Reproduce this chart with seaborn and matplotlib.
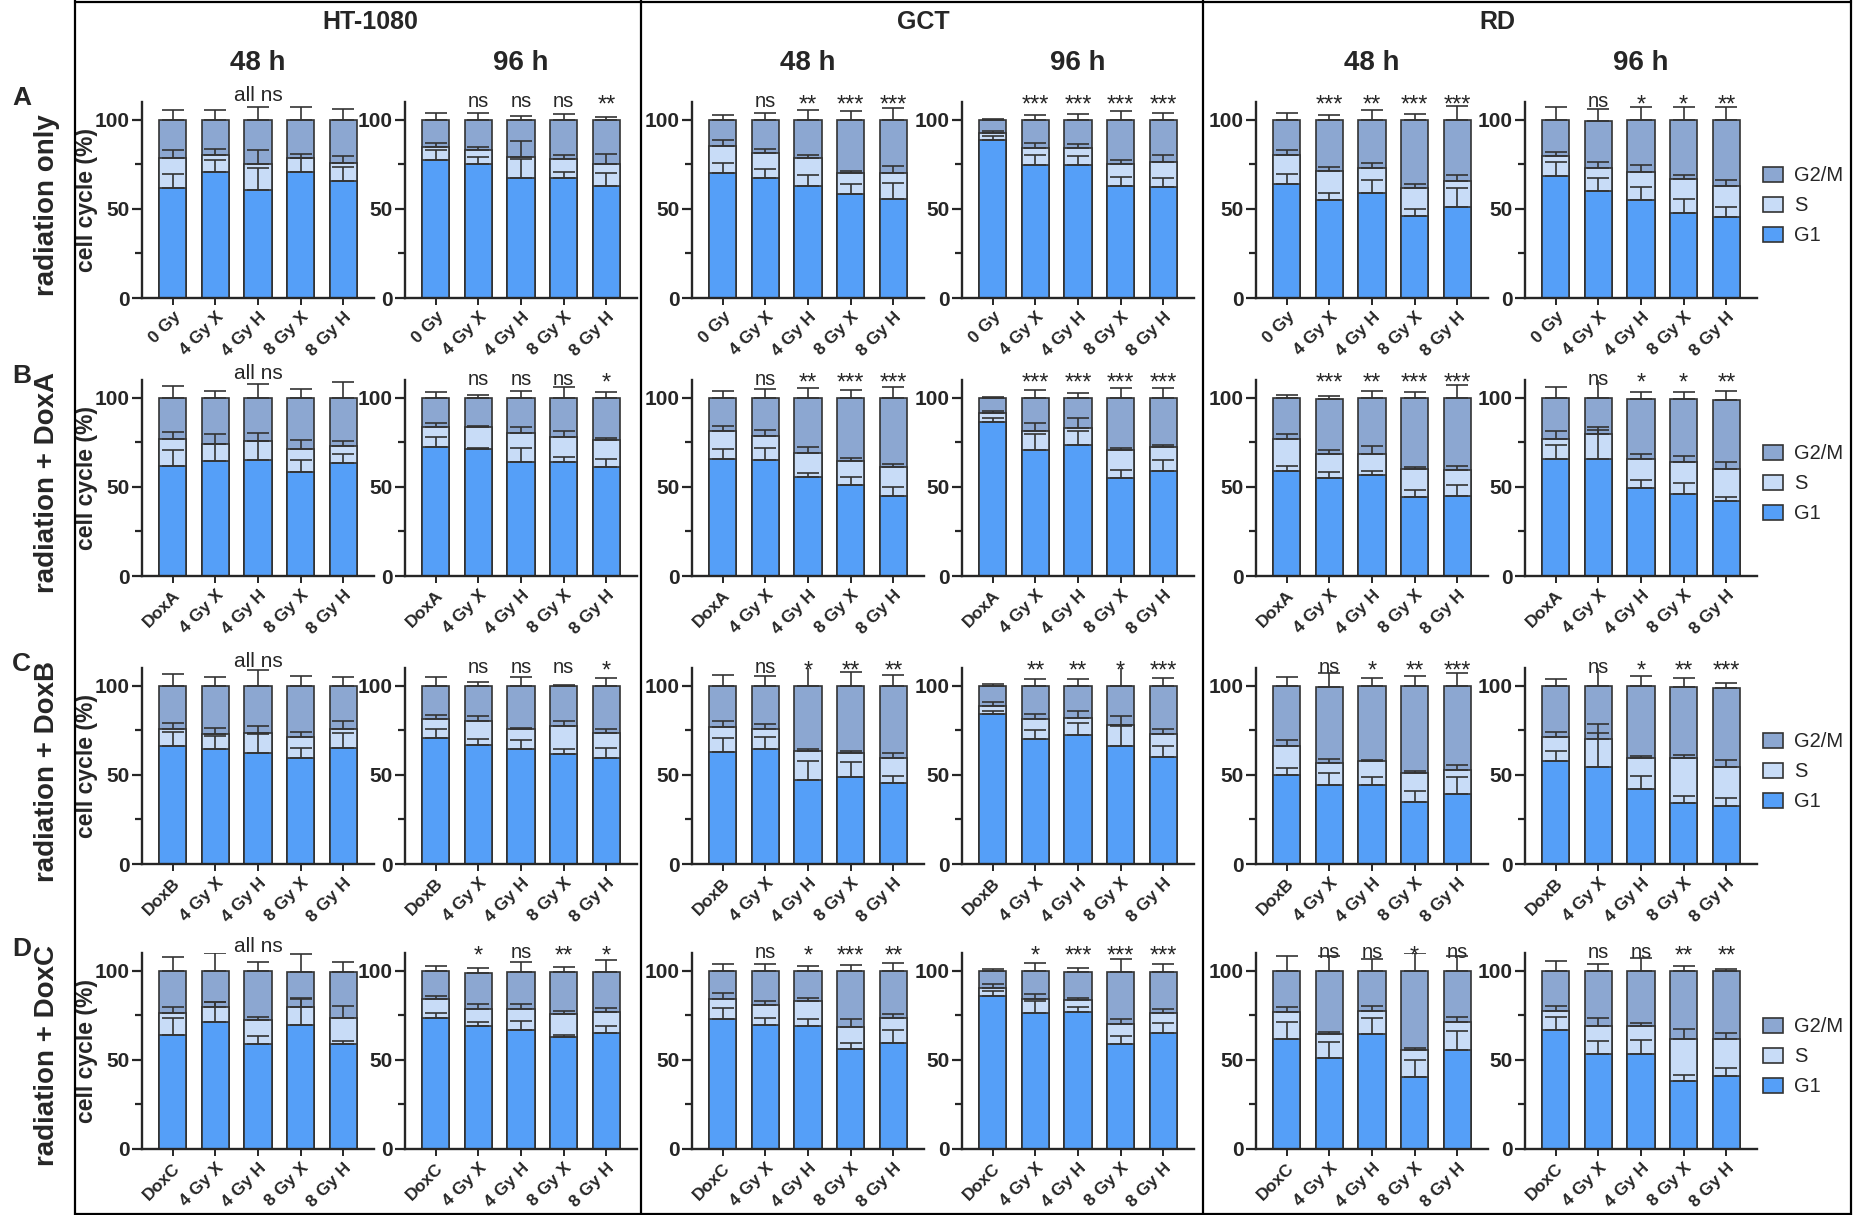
import numpy as np
import matplotlib.pyplot as plt
from matplotlib.patches import Patch
from matplotlib.lines import Line2D
from matplotlib.ticker import MultipleLocator
import seaborn as sns

sns.set_style('ticks')
plt.rcParams['font.family'] = ['Liberation Sans', 'DejaVu Sans']

# colours of the three phases
col_g1 = '#559ff8'
col_s = '#c8dcf7'
col_g2m = '#8ca7d1'
edge = '#333333'

cell_lines = ['HT-1080', 'GCT', 'RD']
times = ['48 h', '96 h']
treatments = ['radiation only', 'radiation + DoxA', 'radiation + DoxB', 'radiation + DoxC']
row_letters = ['A', 'B', 'C', 'D']
first_cats = ['0 Gy', 'DoxA', 'DoxB', 'DoxC']
doses = ['4 Gy X', '4 Gy H', '8 Gy X', '8 Gy H']
phases = ['G2/M', 'S', 'G1']

# panel order in each row: HT48, HT96, GCT48, GCT96, RD48, RD96
# --- row A: radiation only
g1_A = [[61.5, 70.7, 60.7, 70.7, 65.5], [77.5, 75.3, 67.6, 67.2, 62.7], [70.4, 67.2, 62.7, 58.4, 55.6],
        [88.8, 74.7, 74.7, 62.9, 62.4], [63.7, 55.1, 59.1, 46.2, 51.1], [68.4, 60.3, 55.0, 47.8, 45.7]]
s_A = [[17.0, 9.3, 14.6, 7.8, 10.5], [7.3, 7.7, 11.8, 10.8, 12.3], [15.0, 14.3, 15.6, 11.6, 14.8],
       [3.7, 9.5, 9.5, 12.4, 13.8], [16.5, 16.2, 14.1, 15.8, 14.8], [11.4, 12.9, 15.6, 19.1, 17.4]]
g2m_A = [[21.5, 20.0, 24.7, 21.5, 24.0], [15.2, 17.0, 20.6, 22.0, 25.0], [14.6, 18.5, 21.7, 30.0, 29.6],
         [7.5, 15.8, 15.8, 24.7, 23.8], [19.8, 28.7, 26.8, 38.0, 34.1], [20.2, 26.1, 29.4, 33.1, 36.9]]
eg1_A = [[8, 7, 12, 8, 8], [5.6, 3.7, 10.5, 3.6, 7.5], [5.4, 5.3, 6.6, 5.6, 8.8],
         [2, 5.5, 4.8, 5, 5], [6, 4, 7, 4, 10.7], [7.7, 7, 7.3, 7.8, 5.2]]
es_A = [[4.5, 3.6, 7.7, 2.3, 3.7], [2, 2, 8.8, 2.3, 6], [3.2, 2, 1.7, 1.5, 3.9],
        [1.1, 3, 2, 2.3, 4], [3, 2.3, 2.7, 2, 3], [2.2, 3, 4.3, 2.4, 3.2]]
eg2m_A = [[5.5, 5.5, 7, 7, 6], [4, 3.6, 2, 3.4, 1.7], [2.6, 4, 5.6, 5, 6.6],
          [0.7, 2.7, 3, 5, 4], [3.6, 2.7, 5.7, 3, 8], [7, 6.5, 7.3, 7, 7]]
sig_A = [['all ns'], ['', 'ns', 'ns', 'ns', '**'], ['', 'ns', '**', '***', '***'],
         ['', '***', '***', '***', '***'], ['', '***', '**', '***', '***'], ['', 'ns', '*', '*', '**']]

# --- row B: radiation + DoxA
g1_B = [[61.7, 64.4, 65.0, 58.6, 63.2], [72.5, 71.0, 64.0, 63.8, 61.2], [65.5, 65.1, 55.5, 51.0, 44.9],
        [86.7, 70.8, 73.6, 54.8, 58.7], [59.0, 55.0, 56.6, 44.5, 44.9], [65.5, 65.9, 49.6, 46.2, 42.2]]
s_B = [[15.3, 9.6, 10.7, 12.6, 10.0], [11.1, 12.6, 16.1, 14.2, 15.0], [16.0, 13.6, 13.4, 13.5, 16.2],
       [4.5, 10.5, 9.2, 16.0, 13.6], [18.1, 13.5, 12.1, 15.6, 14.7], [11.6, 13.8, 16.3, 17.8, 17.8]]
g2m_B = [[23.0, 26.0, 24.3, 28.8, 26.8], [16.4, 16.4, 19.9, 22.0, 23.8], [18.5, 21.3, 31.1, 35.5, 38.9],
         [8.8, 18.7, 17.2, 29.2, 27.7], [22.9, 31.0, 31.3, 39.9, 40.4], [22.9, 20.3, 33.4, 35.3, 39.0]]
eg1_B = [[9, 9.7, 10.7, 6.4, 5], [5.6, 1.1, 8, 2.8, 4.3], [5.6, 6.8, 2.2, 4.5, 5.3],
         [1.7, 8.7, 8, 4.8, 6.4], [3, 3.5, 2.4, 3.7, 5.9], [7.8, 16, 4.2, 6, 2]]
es_B = [[4, 5.5, 4.7, 5.3, 2.5], [2.2, 0.4, 3.5, 3.5, 1.3], [2.8, 3.2, 3.7, 1.5, 1.5],
        [1.3, 4.8, 6, 1.3, 1.1], [2.8, 2, 4, 1, 2], [4, 3.8, 2.3, 3.4, 3.8]]
eg2m_B = [[6.4, 4, 8, 5, 9], [3.3, 1.5, 4, 6, 3], [3.6, 5, 5.7, 4.5, 5.8],
          [0.4, 4.6, 2.8, 5.4, 5.7], [1.5, 1.7, 3.7, 3.3, 7], [6, 15, 3.7, 4.2, 4.8]]
sig_B = [['all ns'], ['', 'ns', 'ns', 'ns', '*'], ['', 'ns', '**', '***', '***'],
         ['', '***', '***', '***', '***'], ['', '***', '**', '***', '***'], ['', 'ns', '*', '*', '**']]

# --- row C: radiation + DoxB
g1_C = [[66.0, 64.3, 62.2, 59.7, 64.9], [70.8, 66.9, 64.8, 61.9, 59.7], [63.0, 64.6, 47.1, 48.8, 45.6],
        [84.0, 70.4, 72.3, 66.5, 60.3], [50.0, 44.2, 44.2, 34.6, 39.1], [57.6, 54.5, 42.0, 34.3, 32.8]]
s_C = [[9.7, 8.9, 11.4, 11.3, 11.0], [10.5, 13.2, 10.8, 15.8, 13.8], [14.0, 11.3, 16.4, 13.7, 13.9],
       [4.8, 11.2, 9.9, 11.4, 12.5], [16.2, 12.6, 13.5, 16.7, 13.5], [13.4, 15.5, 17.3, 25.0, 21.9]]
g2m_C = [[24.3, 26.8, 26.4, 29.0, 24.1], [18.7, 19.9, 24.4, 22.3, 26.5], [23.0, 24.1, 36.5, 37.5, 40.5],
         [11.2, 18.4, 17.8, 22.1, 27.2], [33.8, 42.7, 42.3, 48.7, 47.4], [29.0, 30.0, 40.7, 40.0, 44.3]]
eg1_C = [[8.3, 7.5, 11, 5.2, 8.8], [4.7, 3.4, 5, 2.5, 5.3], [7.8, 6.6, 10.6, 8.6, 3.8],
         [1.9, 4.7, 6.9, 11, 6], [4.1, 7, 4.5, 6.2, 10], [5.7, 19, 7.2, 4, 4.2]]
es_C = [[3.7, 2.9, 4, 3.3, 4.6], [2.5, 3, 0.6, 2.6, 2.3], [3.2, 2.7, 0.8, 1, 3],
        [1.9, 2.8, 3.7, 5, 2.8], [3.2, 1.9, 0.8, 1.1, 2.8], [3.2, 8.5, 1.1, 1.7, 3.6]]
eg2m_C = [[6.6, 5.2, 9, 5.6, 5.2], [5, 2.3, 4.7, 0.6, 4.2], [6, 5.3, 11, 7.6, 6.3],
          [1, 3.7, 3.7, 15, 4.3], [5, 7.5, 4.5, 5.6, 7.3], [4, 15, 5.3, 5, 2.5]]
sig_C = [['all ns'], ['', 'ns', 'ns', 'ns', '*'], ['', 'ns', '*', '**', '**'],
         ['', '**', '**', '*', '***'], ['', 'ns', '*', '**', '***'], ['', 'ns', '*', '**', '***']]

# --- row D: radiation + DoxC
g1_D = [[63.8, 71.3, 59.2, 69.4, 59.2], [73.6, 69.3, 66.7, 62.8, 65.0], [72.7, 69.7, 68.9, 56.4, 59.7],
        [85.7, 76.4, 77.0, 58.9, 65.0], [61.8, 51.3, 64.8, 40.3, 55.7], [66.6, 53.4, 53.4, 38.4, 40.8]]
s_D = [[12.7, 8.5, 13.1, 10.4, 14.3], [10.4, 9.3, 12.1, 12.7, 11.8], [11.6, 11.2, 14.4, 11.8, 14.1],
       [4.4, 7.8, 6.5, 11.0, 11.2], [15.0, 13.0, 12.4, 15.2, 15.6], [10.9, 15.9, 15.5, 23.4, 21.0]]
g2m_D = [[23.5, 20.2, 27.7, 19.7, 25.8], [16.0, 20.4, 20.5, 23.8, 22.5], [15.7, 19.1, 16.7, 31.8, 26.2],
         [9.9, 15.8, 16.0, 29.4, 23.3], [23.2, 35.7, 22.8, 44.5, 28.7], [22.5, 30.7, 31.1, 38.2, 38.2]]
eg1_D = [[9.8, 11, 4, 15, 1.3], [3, 2, 5, 1.1, 4], [6.4, 4, 4, 3.2, 7],
         [3.2, 6.9, 2.6, 4.6, 5.6], [9.3, 9, 9, 9.7, 10.5], [7.3, 7.3, 7.8, 2.9, 4.4]]
es_D = [[3, 2.7, 1.9, 4.8, 6.5], [2, 2.6, 2.4, 1.7, 2.4], [3.4, 2, 1.5, 4.5, 2],
        [2.4, 2.8, 1.3, 3.3, 2.6], [2.7, 1.1, 3, 1.3, 3], [2.5, 4, 1.9, 5.5, 3.4]]
eg2m_D = [[7.7, 9.8, 4.8, 10, 5.7], [2.8, 2.6, 5.5, 2.8, 6.5], [3.7, 3.7, 2.8, 3.4, 4.5],
          [1.3, 4.6, 1.9, 7.4, 4.5], [8.2, 8.2, 6.8, 10, 8.2], [5.7, 4, 7.3, 2.5, 1.3]]
sig_D = [['all ns'], ['', '*', 'ns', '**', '*'], ['', 'ns', '*', '***', '**'],
         ['', '*', '***', '***', '***'], ['', 'ns', 'ns', '*', 'ns'], ['', 'ns', 'ns', '**', '**']]

rows = [
    (g1_A, s_A, g2m_A, eg1_A, es_A, eg2m_A, sig_A),
    (g1_B, s_B, g2m_B, eg1_B, es_B, eg2m_B, sig_B),
    (g1_C, s_C, g2m_C, eg1_C, es_C, eg2m_C, sig_C),
    (g1_D, s_D, g2m_D, eg1_D, es_D, eg2m_D, sig_D),
]

# layout in pixels of the 1853 x 1215 canvas
W, H = 1853, 1215
ax_left = [142, 405, 692, 962, 1256, 1525]
ax_w = 232
row_zero = [298, 576, 864, 1149]
ax_h = 196
ytop = 110

fig = plt.figure(figsize=(W / 100, H / 100), dpi=100)

for r, (g1, s, g2m, eg1, es, eg2m, sig) in enumerate(rows):
    cats = [first_cats[r]] + doses
    zero = row_zero[r]
    for p in range(6):
        ax = fig.add_axes([ax_left[p] / W, 1 - zero / H, ax_w / W, ax_h / H])
        t1 = np.array(g1[p])
        t2 = t1 + np.array(s[p])
        t3 = t2 + np.array(g2m[p])
        # stacked bars: draw totals first, then overlay lower segments
        for tops, col in ((t3, col_g2m), (t2, col_s), (t1, col_g1)):
            sns.barplot(x=cats, y=tops, color=col, saturation=1, width=0.64,
                        edgecolor=edge, linewidth=1.2, errorbar=None, ax=ax)
        for tops, err in ((t1, eg1[p]), (t2, es[p]), (t3, eg2m[p])):
            ax.errorbar(range(5), tops, yerr=[np.zeros(5), err], fmt='none',
                        ecolor=edge, elinewidth=1.2, capsize=8, capthick=1.2, zorder=5)

        # significance marks
        if sig[p] == ['all ns']:
            ax.text(2, 110.5, 'all ns', ha='center', va='baseline', fontsize=15, clip_on=False)
        else:
            for i, lab in enumerate(sig[p]):
                if lab == 'ns':
                    ax.text(i, 107.3, lab, ha='center', va='baseline', fontsize=14.5, clip_on=False)
                elif lab:
                    ax.text(i, 104.5, lab, ha='center', va='baseline', fontsize=17, clip_on=False)

        ax.set_xlim(-0.72, 4.72)
        ax.set_ylim(0, ytop)
        ax.set_yticks([0, 50, 100])
        ax.yaxis.set_minor_locator(MultipleLocator(25))
        ax.tick_params(axis='y', which='major', length=7, width=1.6, labelsize=15, pad=2)
        ax.tick_params(axis='y', which='minor', length=5, width=1.6)
        ax.tick_params(axis='x', length=5, width=1.4, pad=3)
        for lab in ax.get_yticklabels():
            lab.set_fontweight('bold')
        ax.set_xticks(range(5))
        ax.set_xticklabels(cats, rotation=45, ha='right', rotation_mode='anchor',
                           fontsize=12.5, fontweight='bold')
        ax.set_xlabel('')
        if p == 0:
            ax.set_ylabel('cell cycle (%)', fontsize=16.5, fontweight='bold')
            ax.yaxis.set_label_coords((98 - ax_left[0]) / ax_w, 0.5)
        else:
            ax.set_ylabel('')
        sns.despine(ax=ax)
        for sp in ('left', 'bottom'):
            ax.spines[sp].set_linewidth(1.7)

        if p == 5:
            handles = [Patch(facecolor=c, edgecolor=edge, linewidth=1.2, label=n)
                       for c, n in zip((col_g2m, col_s, col_g1), phases)]
            ax.legend(handles=handles, loc='center left', bbox_to_anchor=(1.0, 0.47),
                      frameon=False, fontsize=14.5, handlelength=1.0, handleheight=0.75,
                      handletextpad=0.55, labelspacing=0.55, borderaxespad=0.1,
                      borderpad=0.2)

    # row letters and treatment labels
    fig.text(12 / W, 1 - (zero - 200) / H, row_letters[r], fontsize=19, fontweight='bold',
             ha='left', va='center')
    fig.text(47 / W, 1 - (zero - 93) / H, treatments[r], rotation=90, fontsize=20,
             fontweight='bold', ha='center', va='center')

# column headers
for name, x in zip(cell_lines, (370, 923, 1497)):
    fig.text(x / W, 1 - 22 / H, name, fontsize=18, fontweight='bold', ha='center', va='center')
for p in range(6):
    fig.text((ax_left[p] + ax_w / 2) / W, 1 - 63 / H, times[p % 2], fontsize=20,
             fontweight='bold', ha='center', va='center')

# boxes around the three cell lines
for x in (75, 641, 1203, 1851):
    fig.add_artist(Line2D([x / W, x / W], [0, 1], transform=fig.transFigure, color='black', lw=1.6))
for y in (1.5, 1213.5):
    fig.add_artist(Line2D([75 / W, 1851 / W], [1 - y / H, 1 - y / H], transform=fig.transFigure,
                          color='black', lw=1.6))

fig.savefig('out.png', dpi=100)
